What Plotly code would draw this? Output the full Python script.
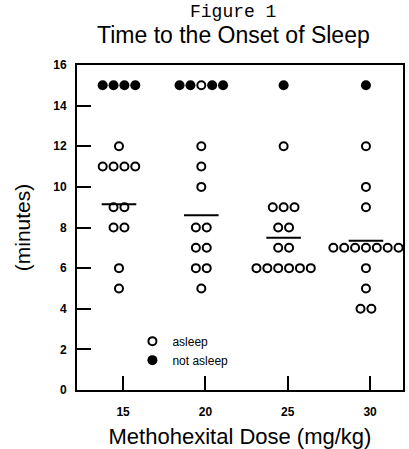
import plotly.graph_objects as go

# ---- data ----
doses = [15, 20, 25, 30]
asleep_15 = [12, 11, 11, 11, 11, 9, 9, 8, 8, 6, 5]
not_asleep_15 = [15, 15, 15, 15]
asleep_20 = [15, 12, 11, 10, 8, 8, 7, 7, 6, 6, 5]
not_asleep_20 = [15, 15, 15, 15]
asleep_25 = [12, 9, 9, 9, 8, 8, 7, 7, 6, 6, 6, 6, 6, 6]
not_asleep_25 = [15]
asleep_30 = [12, 10, 9, 7, 7, 7, 7, 7, 7, 7, 6, 5, 4, 4]
not_asleep_30 = [15]
mean_minutes = [9.15, 8.6, 7.5, 7.35]
y_ticks = [0, 2, 4, 6, 8, 10, 12, 14, 16]

asleep = [asleep_15, asleep_20, asleep_25, asleep_30]
not_asleep = [not_asleep_15, not_asleep_20, not_asleep_25, not_asleep_30]

SPACING = 0.66   # horizontal gap between stacked dots (x units)
SHIFT = -0.25    # dots sit slightly left of tick
HALF_LINE = 1.05

ax, ay, nx, ny = [], [], [], []
for d, a_vals, n_vals in zip(doses, asleep, not_asleep):
    for y in sorted(set(a_vals) | set(n_vals), reverse=True):
        na = n_vals.count(y)
        aa = a_vals.count(y)
        half = na // 2
        kinds = ["n"] * half + ["a"] * aa + ["n"] * (na - half)
        n = len(kinds)
        for i, k in enumerate(kinds):
            x = d + SHIFT + (i - (n - 1) / 2) * SPACING
            if k == "a":
                ax.append(x); ay.append(y)
            else:
                nx.append(x); ny.append(y)

fig = go.Figure()
fig.add_trace(go.Scatter(
    x=ax, y=ay, mode="markers", name="asleep",
    marker=dict(symbol="circle", size=8, color="white",
                line=dict(color="black", width=2))))
fig.add_trace(go.Scatter(
    x=nx, y=ny, mode="markers", name="not asleep",
    marker=dict(symbol="circle", size=10, color="black",
                line=dict(color="black", width=0))))

for d, m in zip(doses, mean_minutes):
    fig.add_trace(go.Scatter(
        x=[d + SHIFT - HALF_LINE, d + SHIFT + HALF_LINE], y=[m, m],
        mode="lines", line=dict(color="black", width=2),
        showlegend=False, hoverinfo="skip"))

fig.update_layout(
    width=409, height=449,
    margin=dict(l=77, r=4, t=65, b=57),
    paper_bgcolor="white", plot_bgcolor="white",
    font=dict(family="Liberation Sans, Arial, sans-serif", color="black"),
    showlegend=True,
    legend=dict(x=0.17, y=0.195, xanchor="left", yanchor="top",
                bgcolor="rgba(0,0,0,0)", font=dict(size=12),
                tracegroupgap=0),
    annotations=[
        dict(text="Figure 1", xref="paper", yref="paper",
             x=0.48, y=1.0, yshift=53, yanchor="middle", showarrow=False,
             font=dict(family="Liberation Mono, Courier New, monospace", size=18)),
        dict(text="Time to the Onset of Sleep", xref="paper", yref="paper",
             x=0.48, y=1.0, yshift=30, yanchor="middle", showarrow=False,
             font=dict(size=23)),
    ],
)

fig.update_xaxes(
    range=[12.2, 32.0], tickvals=doses, ticktext=[str(d) for d in doses],
    ticks="inside", ticklen=14, tickwidth=2, tickcolor="black",
    showline=True, linecolor="black", linewidth=2, mirror=True,
    showgrid=False, zeroline=False,
    tickfont=dict(size=12, weight="bold"), ticklabelstandoff=10,
    title=dict(text="Methohexital Dose (mg/kg)", font=dict(size=22), standoff=10),
)
fig.update_yaxes(
    range=[0, 16], tickvals=y_ticks,
    ticks="inside", ticklen=14, tickwidth=2, tickcolor="black",
    showline=True, linecolor="black", linewidth=2, mirror=True,
    showgrid=False, zeroline=False,
    tickfont=dict(size=12, weight="bold"), ticklabelstandoff=6,
    title=dict(text="(minutes)", font=dict(size=21), standoff=17),
)

fig.write_html("out.html", config={"displayModeBar": False},
               post_script="document.body.style.margin='0px';")
